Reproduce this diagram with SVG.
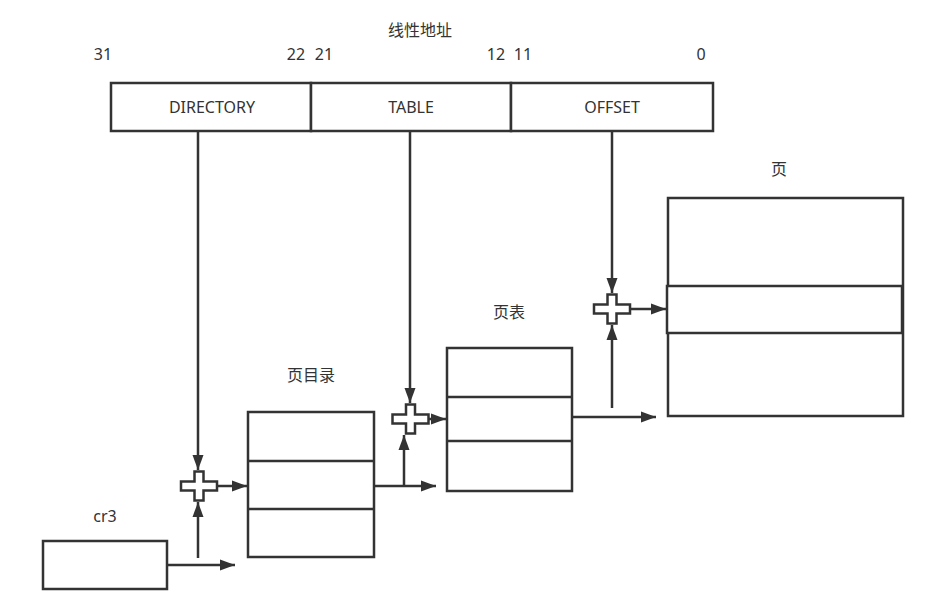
<svg xmlns="http://www.w3.org/2000/svg" width="934" height="608" viewBox="0 0 934 608">
<style>
.b{fill:#fff;stroke:#333;stroke-width:2.5}
.l{fill:none;stroke:#333;stroke-width:2.5}
.c{fill:#fff;stroke:#333;stroke-width:2.5}
text{font-family:"Noto Sans","Noto Sans CJK SC",sans-serif;font-size:16px;fill:#333;text-anchor:middle}
.cjk{font-family:"Noto Sans CJK SC",sans-serif;font-size:16px}
</style>
<defs>
<marker id="a" markerWidth="16" markerHeight="12" refX="15" refY="6" orient="auto" markerUnits="userSpaceOnUse" viewBox="0 0 16 12">
<path d="M0,0.5 L15,6 L0,11.5 Z" fill="#333"/>
</marker>
<path id="cross" d="M-4.5,-14.5 H4.5 V-4.5 H18 V4.5 H4.5 V14.5 H-4.5 V4.5 H-18 V-4.5 H-4.5 Z"/>
</defs>
<rect width="934" height="608" fill="#fff"/>
<g id="title"><text class="cjk" x="420" y="36">线性地址</text></g>
<g id="bits">
<text x="103" y="60">31</text><text x="296" y="60">22</text><text x="324" y="60">21</text>
<text x="496" y="60">12</text><text x="523" y="60">11</text><text x="701" y="60">0</text>
</g>
<g id="directory"><rect class="b" x="111" y="83" width="200" height="48"/><text x="212" y="113">DIRECTORY</text></g>
<g id="table"><rect class="b" x="311" y="83" width="200" height="48"/><text x="411" y="113">TABLE</text></g>
<g id="offset"><rect class="b" x="511" y="83" width="202" height="48"/><text x="612" y="113">OFFSET</text></g>
<g id="cr3"><rect class="b" x="43" y="541" width="124" height="48"/><text x="105" y="522">cr3</text></g>
<g id="pagedir">
<text class="cjk" x="311" y="381">页目录</text>
<rect class="b" x="248" y="412" width="126" height="145"/>
<line class="l" x1="248" y1="461" x2="374" y2="461"/><line class="l" x1="248" y1="509" x2="374" y2="509"/>
</g>
<g id="pagetable">
<text class="cjk" x="509" y="318">页表</text>
<rect class="b" x="447" y="348" width="125" height="143"/>
<line class="l" x1="447" y1="397" x2="572" y2="397"/><line class="l" x1="447" y1="441" x2="572" y2="441"/>
</g>
<g id="page">
<text class="cjk" x="779" y="175">页</text>
<rect class="b" x="668" y="198" width="235" height="218"/>
<rect class="b" x="667" y="286" width="235" height="47"/>
</g>
<g id="add1"><use href="#cross" class="c" transform="translate(199,486)"/></g>
<g id="add2"><use href="#cross" class="c" transform="translate(410.5,419)"/></g>
<g id="add3"><use href="#cross" class="c" transform="translate(612,309)"/></g>
<g id="connectors">
<path class="l" d="M198,131 V470" marker-end="url(#a)"/>
<path class="l" d="M410,131 V403" marker-end="url(#a)"/>
<path class="l" d="M612,131 V293" marker-end="url(#a)"/>
<path class="l" d="M217,486 H247" marker-end="url(#a)"/>
<path class="l" d="M428.5,419 H446" marker-end="url(#a)"/>
<path class="l" d="M630,309 H666" marker-end="url(#a)"/>
<path class="l" d="M167,565 H235" marker-end="url(#a)"/>
<path class="l" d="M198,558 V502" marker-end="url(#a)"/>
<path class="l" d="M374,486 H436" marker-end="url(#a)"/>
<path class="l" d="M404,486 V435" marker-end="url(#a)"/>
<path class="l" d="M572,417 H656" marker-end="url(#a)"/>
<path class="l" d="M612,408 V325" marker-end="url(#a)"/>
</g>
</svg>
